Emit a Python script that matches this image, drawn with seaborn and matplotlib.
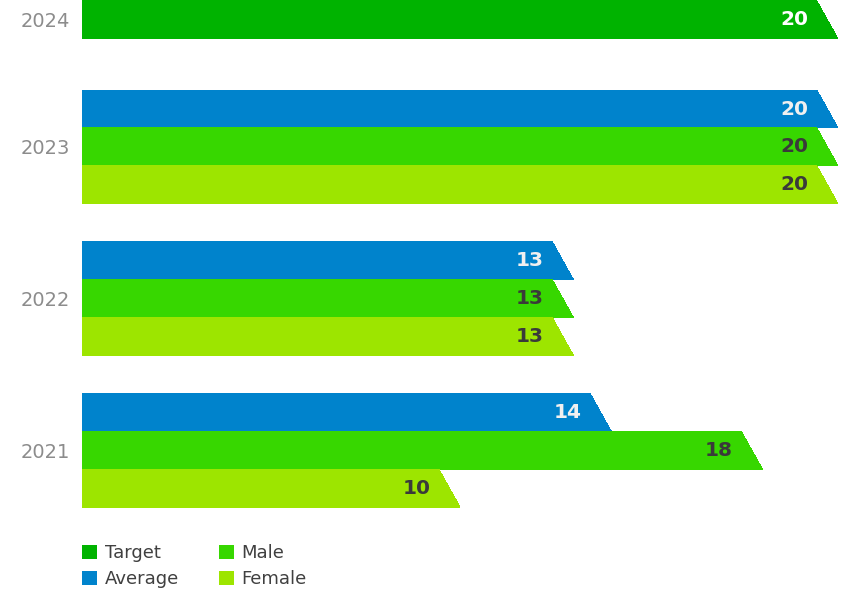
import seaborn as sns
import matplotlib.pyplot as plt
import pandas as pd
from matplotlib.patches import Polygon

years = ["2024", "2023", "2022", "2021"]
series = ["Target", "Average", "Male", "Female"]
target = [20, None, None, None]
average = [None, 20, 13, 14]
male = [None, 20, 13, 18]
female = [None, 20, 13, 10]

colors = ["#00b300", "#0083cc", "#37d700", "#9de500"]
text_colors = {"Target": "white", "Average": "#f0f0f0", "Male": "#3a3a3a", "Female": "#3a3a3a"}

# long table, one row per bar; bars stack in groups with a gap between years
rows = []
centers = []
cursor = 0.0
for i, year in enumerate(years):
    start = cursor
    for name, vals in zip(series, [target, average, male, female]):
        if vals[i] is None:
            continue
        rows.append({"year": year, "series": name, "value": vals[i], "pos": cursor + 0.5})
        cursor += 1
    centers.append((start + cursor) / 2)
    cursor += 1.35 if i == 0 else 1.0
df = pd.DataFrame(rows)

sns.set_style("white")
plt.rcParams["font.family"] = ["DejaVu Sans"]

fig = plt.figure(figsize=(8.41, 5.89), dpi=100)
ax = fig.add_axes([82 / 841, 1 - 520 / 589, 1 - 82 / 841, 520 / 589])

sns.barplot(data=df, x="value", y="pos", hue="series", hue_order=series,
            palette=colors, saturation=1, orient="h", native_scale=True,
            dodge=False, width=1.0, linewidth=0, ax=ax)

ax.set_xlim(0, 20.08)
ax.set_ylim(13.69, -0.026)

# turn the rectangles into bars with a slanted right end
slant = 0.56
for p in list(ax.patches):
    x0, y0 = p.get_x(), p.get_y()
    w, h = p.get_width(), p.get_height()
    top, bot = min(y0, y0 + h), max(y0, y0 + h)
    poly = Polygon([(x0, top), (x0 + w - slant, top), (x0 + w, bot), (x0, bot)],
                   closed=True, facecolor=p.get_facecolor(), edgecolor="none",
                   antialiased=False)
    p.remove()
    ax.add_patch(poly)

for _, r in df.iterrows():
    ax.text(r["value"] - slant - 0.22, r["pos"], f"{r['value']:g}",
            ha="right", va="center", fontsize=14.5, fontweight="bold",
            color=text_colors[r["series"]])

ax.set_yticks(centers)
ax.set_yticklabels(years, color="#8c8c8c", fontsize=14)
ax.tick_params(axis="y", length=0, pad=9)
ax.set_xticks([])
ax.set_xlabel("")
ax.set_ylabel("")
sns.despine(ax=ax, left=True, bottom=True)

sns.move_legend(ax, "upper left", bbox_to_anchor=(0, -24 / 520), ncol=2,
                frameon=False, title=None, fontsize=13, borderpad=0,
                borderaxespad=0, handlelength=0.85, handleheight=0.85,
                handletextpad=0.4, columnspacing=2.2, labelspacing=0.45,
                labelcolor="#404040")

fig.savefig("out.png", dpi=100)
